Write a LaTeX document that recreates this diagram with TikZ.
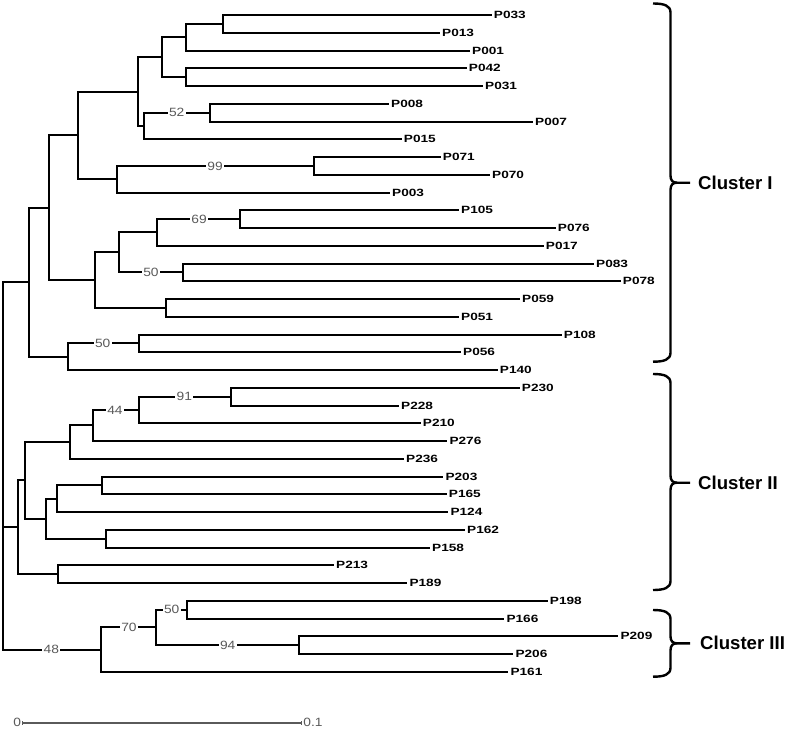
\documentclass[tikz,border=0pt]{standalone}
\usepackage{fontspec}
\setmainfont{Liberation Sans}
\newfontfamily\leaffont[FakeStretch=1.3]{Liberation Sans}
\newfontfamily\bsfont[FakeStretch=1.15]{Liberation Sans}
\definecolor{bsgrey}{HTML}{5A5A5A}
\tikzset{
  branch/.style={line width=2pt, black},
  leaf/.style={anchor=west, inner xsep=2pt, inner ysep=0pt, font=\leaffont\fontsize{10.5}{11}\selectfont\bfseries},
  boot/.style={fill=white, inner xsep=1.5pt, inner ysep=0pt, text=bsgrey, font=\bsfont\fontsize{12}{13}\selectfont},
  clab/.style={anchor=west, inner sep=0pt, font=\fontsize{18.6}{20}\selectfont\bfseries},
  bracestyle/.style={line width=2.4pt, black}
}
\newcommand\mybrace[3]{%
  \draw[bracestyle] (653,#1) .. controls (664,#1) and (670.5,{#1+2}) .. (670.5,{#1+9})
     -- (670.5,{#2-7}) .. controls (670.5,{#2-2}) and (673,#2) .. (677,#2) -- (690,#2);
  \draw[bracestyle] (653,#3) .. controls (664,#3) and (670.5,{#3-2}) .. (670.5,{#3-9})
     -- (670.5,{#2+7}) .. controls (670.5,{#2+2}) and (673,#2) .. (677,#2);
}
\begin{document}
\begin{tikzpicture}[x=1pt,y=-1pt]
\useasboundingbox (0,0) rectangle (787,729);
% leaves
\node[leaf] (P033) at (491.7,15) {P033};
\node[leaf] (P013) at (440,32.75) {P013};
\node[leaf] (P001) at (470,50.5) {P001};
\node[leaf] (P042) at (466.7,68.25) {P042};
\node[leaf] (P031) at (483,86) {P031};
\node[leaf] (P008) at (389,103.75) {P008};
\node[leaf] (P007) at (533,121.5) {P007};
\node[leaf] (P015) at (401.7,139.25) {P015};
\node[leaf] (P071) at (440.7,157) {P071};
\node[leaf] (P070) at (490,174.75) {P070};
\node[leaf] (P003) at (390,192.5) {P003};
\node[leaf] (P105) at (459,210.25) {P105};
\node[leaf] (P076) at (555.7,228) {P076};
\node[leaf] (P017) at (543.7,245.75) {P017};
\node[leaf] (P083) at (594,263.5) {P083};
\node[leaf] (P078) at (620.7,281.25) {P078};
\node[leaf] (P059) at (520,299) {P059};
\node[leaf] (P051) at (459,316.75) {P051};
\node[leaf] (P108) at (561.7,334.5) {P108};
\node[leaf] (P056) at (461,352.25) {P056};
\node[leaf] (P140) at (497.7,370) {P140};
\node[leaf] (P230) at (519.7,387.75) {P230};
\node[leaf] (P228) at (399,405.5) {P228};
\node[leaf] (P210) at (420.7,423.25) {P210};
\node[leaf] (P276) at (447.3,441) {P276};
\node[leaf] (P236) at (404,458.75) {P236};
\node[leaf] (P203) at (443.3,476.5) {P203};
\node[leaf] (P165) at (446.7,494.25) {P165};
\node[leaf] (P124) at (448.3,512) {P124};
\node[leaf] (P162) at (465,529.75) {P162};
\node[leaf] (P158) at (430,547.5) {P158};
\node[leaf] (P213) at (334,565.25) {P213};
\node[leaf] (P189) at (407.3,583) {P189};
\node[leaf] (P198) at (547.7,600.75) {P198};
\node[leaf] (P166) at (504.3,618.5) {P166};
\node[leaf] (P209) at (618.3,636.25) {P209};
\node[leaf] (P206) at (513.3,654) {P206};
\node[leaf] (P161) at (508.3,671.75) {P161};
% internal nodes
\coordinate (nA) at (223,23.875);
\coordinate (nB) at (185.7,37.19);
\coordinate (nC) at (185.7,77.125);
\coordinate (nD) at (162.3,57.16);
\coordinate (nE) at (209.7,112.625);
\coordinate (nF) at (143.7,125.94);
\coordinate (nG) at (137.7,91.55);
\coordinate (nH) at (314.3,165.875);
\coordinate (nI) at (117.3,179.19);
\coordinate (nJ) at (77.7,135.37);
\coordinate (nL) at (240,219.125);
\coordinate (nM) at (157,232.44);
\coordinate (nN) at (183,272.375);
\coordinate (nO) at (119,252.41);
\coordinate (nP) at (166.3,307.875);
\coordinate (nQ) at (95.3,280.14);
\coordinate (nK) at (49.3,207.76);
\coordinate (nR) at (138.7,343.375);
\coordinate (nS) at (68.3,356.69);
\coordinate (nT) at (29.3,282.22);
\coordinate (nV) at (231.3,396.625);
\coordinate (nW) at (138.7,409.94);
\coordinate (nX) at (93,425.47);
\coordinate (nY) at (70,442.11);
\coordinate (nZ) at (102,485.375);
\coordinate (nAA) at (56.7,498.69);
\coordinate (nAB) at (106,538.625);
\coordinate (nAC) at (45.7,518.66);
\coordinate (nAD) at (25,480.38);
\coordinate (nAE) at (58.3,574.125);
\coordinate (nAF) at (18.3,527.25);
\coordinate (nU) at (3.2,404.74);
\coordinate (nAG) at (187,609.625);
\coordinate (nAH) at (299,645.125);
\coordinate (nAI) at (156,627.375);
\coordinate (nAJ) at (100.7,649.56);
\coordinate (nRoot) at (3.2,527.15);
% branches
\begin{scope}[branch]
\draw (nA) |- (P033.west); \draw (nA) |- (P013.west);
\draw (nB) |- (nA); \draw (nB) |- (P001.west);
\draw (nC) |- (P042.west); \draw (nC) |- (P031.west);
\draw (nD) |- (nB); \draw (nD) |- (nC);
\draw (nE) |- (P008.west); \draw (nE) |- (P007.west);
\draw (nF) |- (nE); \draw (nF) |- (P015.west);
\draw (nG) |- (nD); \draw (nG) |- (nF);
\draw (nH) |- (P071.west); \draw (nH) |- (P070.west);
\draw (nI) |- (nH); \draw (nI) |- (P003.west);
\draw (nJ) |- (nG); \draw (nJ) |- (nI);
\draw (nL) |- (P105.west); \draw (nL) |- (P076.west);
\draw (nM) |- (nL); \draw (nM) |- (P017.west);
\draw (nN) |- (P083.west); \draw (nN) |- (P078.west);
\draw (nO) |- (nM); \draw (nO) |- (nN);
\draw (nP) |- (P059.west); \draw (nP) |- (P051.west);
\draw (nQ) |- (nO); \draw (nQ) |- (nP);
\draw (nK) |- (nJ); \draw (nK) |- (nQ);
\draw (nR) |- (P108.west); \draw (nR) |- (P056.west);
\draw (nS) |- (nR); \draw (nS) |- (P140.west);
\draw (nT) |- (nK); \draw (nT) |- (nS);
\draw (nV) |- (P230.west); \draw (nV) |- (P228.west);
\draw (nW) |- (nV); \draw (nW) |- (P210.west);
\draw (nX) |- (nW); \draw (nX) |- (P276.west);
\draw (nY) |- (nX); \draw (nY) |- (P236.west);
\draw (nZ) |- (P203.west); \draw (nZ) |- (P165.west);
\draw (nAA) |- (nZ); \draw (nAA) |- (P124.west);
\draw (nAB) |- (P162.west); \draw (nAB) |- (P158.west);
\draw (nAC) |- (nAA); \draw (nAC) |- (nAB);
\draw (nAD) |- (nY); \draw (nAD) |- (nAC);
\draw (nAE) |- (P213.west); \draw (nAE) |- (P189.west);
\draw (nAF) |- (nAD); \draw (nAF) |- (nAE);
\draw (nU) |- (nT); \draw (nU) |- (nAF);
\draw (nAG) |- (P198.west); \draw (nAG) |- (P166.west);
\draw (nAH) |- (P209.west); \draw (nAH) |- (P206.west);
\draw (nAI) |- (nAG); \draw (nAI) |- (nAH);
\draw (nAJ) |- (nAI); \draw (nAJ) |- (P161.west);
\draw (nRoot) |- (nU); \draw (nRoot) |- (nAJ);
\end{scope}
% bootstrap values
\node[boot] (b52) at (176.7,112.625) {52};
\node[boot] (b99) at (215,165.875) {99};
\node[boot] (b69) at (199,219.125) {69};
\node[boot] (b50a) at (151,272.375) {50};
\node[boot] (b50b) at (102.7,343.375) {50};
\node[boot] (b91) at (184.3,396.625) {91};
\node[boot] (b44) at (115,409.94) {44};
\node[boot] (b50c) at (171.7,609.625) {50};
\node[boot] (b94) at (227.7,645.125) {94};
\node[boot] (b70) at (129,627.375) {70};
\node[boot] (b48) at (51.3,649.56) {48};
% braces and cluster labels
\mybrace{3.5}{182.7}{361.7}
\mybrace{374}{482.7}{590}
\mybrace{610}{643.3}{676.7}
\node[clab] (c1) at (698,182.7) {Cluster I};
\node[clab] (c2) at (698,482.7) {Cluster II};
\node[clab] (c3) at (700,643.3) {Cluster III};
% scale bar
\coordinate (sb0) at (22.7,722.7);
\coordinate (sb1) at (301.7,722.7);
\draw[line width=1.8pt, bsgrey] (sb0) -- (sb1);
\draw[line width=1.2pt, bsgrey] ([yshift=-2.2pt]sb0) -- ([yshift=2.2pt]sb0);
\draw[line width=1.2pt, bsgrey] ([yshift=-2.2pt]sb1) -- ([yshift=2.2pt]sb1);
\node[anchor=east, inner xsep=1.5pt, text=bsgrey, font=\bsfont\fontsize{12}{13}\selectfont] (s0) at (sb0) {0};
\node[anchor=west, inner xsep=1.5pt, text=bsgrey, font=\bsfont\fontsize{12}{13}\selectfont] (s1) at (sb1) {0.1};
\end{tikzpicture}
\end{document}
